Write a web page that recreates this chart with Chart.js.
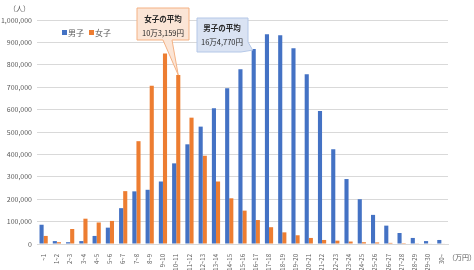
<!DOCTYPE html>
<html>
<head>
<meta charset="utf-8">
<script src="https://cdn.jsdelivr.net/npm/chart.js@4"></script>
<style>
  html, body { margin: 0; padding: 0; background: #fff; }
  #wrap { width: 474px; height: 270px; }
</style>
</head>
<body>
<div id="wrap"><canvas id="myChart" width="474" height="270"></canvas></div>
<script>
const categories = ["~1", "1~2", "2~3", "3~4", "4~5", "5~6", "6~7", "7~8", "8~9", "9~10",
    "10~11", "11~12", "12~13", "13~14", "14~15", "15~16", "16~17", "17~18", "18~19", "19~20",
    "20~21", "21~22", "22~23", "23~24", "24~25", "25~26", "26~27", "27~28", "28~29", "29~30", "30~"];
const boys = [86000, 13000, 8000, 13000, 36000, 73000, 160000, 235000, 242000, 279000,
    360000, 445000, 524000, 606000, 695000, 780000, 870000, 936000, 932000, 874000,
    758000, 594000, 423000, 290000, 200000, 130000, 82000, 49000, 27000, 13000, 18000];
const girls = [36000, 8000, 67000, 113000, 96000, 103000, 236000, 459000, 707000, 851000,
    754000, 564000, 394000, 279000, 204000, 149000, 107000, 75000, 52000, 39000,
    27000, 18000, 15000, 11000, 8000, 7000, 5000, 4000, 3000, 2000, 2000];
const yTicks = [0, 100000, 200000, 300000, 400000, 500000, 600000, 700000, 800000, 900000, 1000000];

const BLUE = "#4472C4";
const ORANGE = "#ED7D31";
const FONT = "'Noto Sans CJK JP', 'Noto Sans', sans-serif";

// 吹き出し・凡例・単位の描画
const extras = {
    id: "extras",
    afterDraw(chart) {
        const ctx = chart.ctx;
        ctx.save();
        ctx.font = "7px " + FONT;
        ctx.fillStyle = "#595959";
        ctx.textBaseline = "middle";
        ctx.textAlign = "left";
        ctx.fillText("（人）", 9, 8);
        ctx.fillText("（万円）", 448, 257);

        // 凡例
        ctx.font = "8px " + FONT;
        ctx.fillStyle = BLUE;
        ctx.fillRect(62, 30, 5, 5);
        ctx.fillStyle = "#595959";
        ctx.fillText("男子", 68, 33);
        ctx.fillStyle = ORANGE;
        ctx.fillRect(89, 30, 5, 5);
        ctx.fillStyle = "#595959";
        ctx.fillText("女子", 95, 33);

        // 女子の平均 -> 10~11
        const fBar = chart.getDatasetMeta(1).data[10];
        const ft = { x: fBar.x, y: fBar.y };
        ctx.beginPath();
        ctx.moveTo(137, 8);
        ctx.lineTo(189, 8);
        ctx.lineTo(189, 40);
        ctx.lineTo(172, 40);
        ctx.lineTo(ft.x, ft.y);
        ctx.lineTo(163, 40);
        ctx.lineTo(137, 40);
        ctx.closePath();
        ctx.fillStyle = "#FBE5D6";
        ctx.fill();
        ctx.strokeStyle = "#F4B183";
        ctx.lineWidth = 1;
        ctx.stroke();
        ctx.fillStyle = "#262626";
        ctx.textAlign = "center";
        ctx.font = "bold 7.5px " + FONT;
        ctx.fillText("女子の平均", 163, 19);
        ctx.font = "7.5px " + FONT;
        ctx.fillText("10万3,159円", 163, 33);

        // 男子の平均 -> 16~17
        const mBar = chart.getDatasetMeta(0).data[16];
        const mt = { x: mBar.x - 1, y: mBar.y + 1 };
        ctx.beginPath();
        ctx.moveTo(197, 18);
        ctx.lineTo(248, 18);
        ctx.lineTo(248, 42);
        ctx.lineTo(mt.x, mt.y);
        ctx.lineTo(241, 52);
        ctx.lineTo(197, 52);
        ctx.closePath();
        ctx.fillStyle = "#DAE3F3";
        ctx.fill();
        ctx.strokeStyle = "#B4C7E7";
        ctx.stroke();
        ctx.fillStyle = "#262626";
        ctx.font = "bold 7.5px " + FONT;
        ctx.fillText("男子の平均", 222, 28);
        ctx.font = "7.5px " + FONT;
        ctx.fillText("16万4,770円", 222, 42);
        ctx.restore();
    }
};

const ctx = document.getElementById("myChart").getContext("2d");
new Chart(ctx, {
    type: "bar",
    data: {
        labels: categories,
        datasets: [
            { label: "男子", data: boys, backgroundColor: BLUE, barPercentage: 1.0, categoryPercentage: 0.62 },
            { label: "女子", data: girls, backgroundColor: ORANGE, barPercentage: 1.0, categoryPercentage: 0.62 },
        ],
    },
    options: {
        responsive: false,
        animation: false,
        layout: { padding: { top: 20, right: 26, left: 0, bottom: 0 } },
        plugins: {
            legend: { display: false },
            tooltip: { enabled: false },
        },
        scales: {
            x: {
                grid: { display: false },
                border: { color: "#d9d9d9" },
                ticks: {
                    minRotation: 90, maxRotation: 90, autoSkip: false,
                    font: { size: 6, family: FONT }, color: "#595959", padding: 2,
                },
                afterFit(scale) { scale.height = 26; },
            },
            y: {
                min: 0, max: 1000000,
                afterBuildTicks(scale) { scale.ticks = yTicks.map(v => ({ value: v })); },
                grid: { color: "#d9d9d9", drawTicks: false },
                border: { display: false },
                ticks: {
                    font: { size: 7, family: FONT }, color: "#595959", padding: 5,
                    callback: (v) => v.toLocaleString("en-US"),
                },
                afterFit(scale) { scale.width = 37; },
            },
        },
    },
    plugins: [extras],
});
</script>
</body>
</html>
